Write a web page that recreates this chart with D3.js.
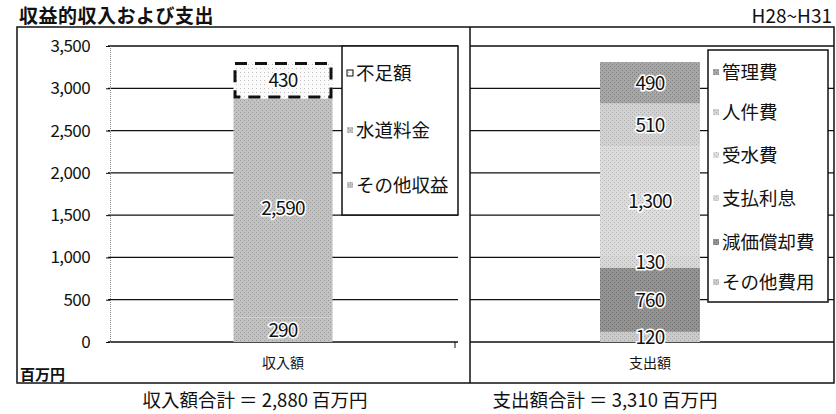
<!DOCTYPE html>
<html>
<head>
<meta charset="utf-8">
<script src="https://cdn.jsdelivr.net/npm/d3@7"></script>
<style>
  html, body { margin: 0; padding: 0; background: #fff; }
  svg { display: block; }
  text { font-family: "Noto Sans CJK JP", "Noto Sans", sans-serif; fill: #111; }
</style>
</head>
<body>
<svg id="chart" width="836" height="414"></svg>
<script>
// 収入 (bottom to top)
const incomeCats = ["その他収益", "水道料金", "不足額"];
const incomeValues = [290, 2590, 430];
// 支出 (bottom to top)
const expenseCats = ["その他費用", "減価償却費", "支払利息", "受水費", "人件費", "管理費"];
const expenseValues = [120, 760, 130, 1300, 510, 490];
const yTicks = [0, 500, 1000, 1500, 2000, 2500, 3000, 3500];
const panelLabels = ["収入額", "支出額"];

const svg = d3.select("#chart");
const fmt = d3.format(",");
const numFont = "'DejaVu Sans', 'Noto Sans', sans-serif";

// dithered grey fills
const fills = {
  "その他収益": ["#c2c2c2", "#7e7e7e"],
  "水道料金":   ["#c2c2c2", "#7e7e7e"],
  "不足額":     ["#fbfbfb", "#9a9a9a"],
  "その他費用": ["#cbcbcb", "#8a8a8a"],
  "減価償却費": ["#939393", "#4e4e4e"],
  "支払利息":   ["#d8d8d8", "#969696"],
  "受水費":     ["#dcdcdc", "#9a9a9a"],
  "人件費":     ["#d2d2d2", "#929292"],
  "管理費":     ["#a6a6a6", "#626262"]
};
const defs = svg.append("defs");
Object.entries(fills).forEach(([k, c], i) => {
  const p = defs.append("pattern").attr("id", "pat" + i)
    .attr("width", 4).attr("height", 4).attr("patternUnits", "userSpaceOnUse");
  p.append("rect").attr("width", 4).attr("height", 4).attr("fill", c[0]);
  const dots = k === "不足額" ? [[0, 0]] : [[0, 0], [2, 2]];
  dots.forEach(d => p.append("rect").attr("x", d[0]).attr("y", d[1])
    .attr("width", 1).attr("height", 1).attr("fill", c[1]).attr("opacity", 0.6));
  fills[k].id = "url(#pat" + i + ")";
});

// scales
const y = d3.scaleLinear().domain([0, 3500]).range([342, 46]);
const xL = d3.scaleBand().domain([panelLabels[0]]).range([108, 458]).paddingOuter(1.268);
const xR = d3.scaleBand().domain([panelLabels[1]]).range([468, 832]).paddingOuter(1.32);

// title
svg.append("text").attr("x", 19).attr("y", 23).attr("font-size", 19).attr("font-weight", 700)
  .attr("letter-spacing", 0.5).text("収益的収入および支出");
svg.append("text").attr("x", 832).attr("y", 23).attr("text-anchor", "end").attr("font-size", 19)
  .text("H28~H31");

// frame
svg.append("rect").attr("x", 17).attr("y", 27).attr("width", 817).attr("height", 356)
  .attr("fill", "none").attr("stroke", "#111").attr("stroke-width", 1.5);
svg.append("line").attr("x1", 470).attr("x2", 470).attr("y1", 27).attr("y2", 383)
  .attr("stroke", "#111").attr("stroke-width", 1.5);

// gridlines
const grid = svg.append("g");
grid.selectAll("line.gl").data(yTicks).join("line")
  .attr("x1", 108).attr("x2", 458).attr("y1", d => y(d)).attr("y2", d => y(d))
  .attr("stroke", "#111").attr("stroke-width", 1.3);
grid.selectAll("line.gr").data(yTicks).join("line")
  .attr("x1", 470).attr("x2", 834).attr("y1", d => y(d)).attr("y2", d => y(d))
  .attr("stroke", "#111").attr("stroke-width", 1.3);

// y axis
const yAxis = svg.append("g").attr("transform", "translate(110,0)")
  .call(d3.axisLeft(y).tickValues(yTicks).tickFormat(fmt).tickSize(4).tickPadding(16));
yAxis.select(".domain").attr("stroke", "#888").attr("stroke-dasharray", "1,1");
yAxis.selectAll(".tick line").attr("stroke", "#111");
yAxis.selectAll(".tick text").attr("font-size", 17).attr("letter-spacing", -0.6)
  .attr("font-family", numFont).attr("fill", "#111");
svg.append("line").attr("x1", 455).attr("x2", 455).attr("y1", y(0)).attr("y2", y(0) + 6)
  .attr("stroke", "#111");

// stacked bars
function stackBar(cats, vals, x, label) {
  let acc = 0;
  const segs = vals.map((v, i) => { const s = { cat: cats[i], v, y0: acc, y1: acc + v }; acc += v; return s; });
  const g = svg.append("g");
  g.selectAll("rect").data(segs).join("rect")
    .attr("x", x(label)).attr("width", x.bandwidth())
    .attr("y", d => y(d.y1)).attr("height", d => y(d.y0) - y(d.y1))
    .attr("fill", d => fills[d.cat].id);
  return { g, segs };
}
const inc = stackBar(incomeCats, incomeValues, xL, panelLabels[0]);
const exp = stackBar(expenseCats, expenseValues, xR, panelLabels[1]);

// shortfall segment drawn with a dashed outline
const short = inc.segs[2];
inc.g.append("rect").attr("x", xL(panelLabels[0]) + 1.5).attr("width", xL.bandwidth() - 3)
  .attr("y", y(short.y1) + 1.5).attr("height", y(short.y0) - y(short.y1) - 3)
  .attr("fill", "none").attr("stroke", "#111").attr("stroke-width", 3)
  .attr("stroke-dasharray", "12,8");

// value labels
function valueLabels(b, x, label) {
  b.g.selectAll("text").data(b.segs).join("text")
    .attr("x", x(label) + x.bandwidth() / 2)
    .attr("y", d => y((d.y0 + d.y1) / 2))
    .attr("dy", "0.36em").attr("text-anchor", "middle")
    .attr("font-family", numFont)
    .attr("font-size", 19).attr("letter-spacing", -0.8)
    .attr("stroke", "#fff").attr("stroke-width", 3).attr("paint-order", "stroke")
    .text(d => fmt(d.v));
}
valueLabels(inc, xL, panelLabels[0]);
valueLabels(exp, xR, panelLabels[1]);

// legends
function legend(x0, y0, w, h, cats, ys) {
  const g = svg.append("g");
  g.append("rect").attr("x", x0).attr("y", y0).attr("width", w).attr("height", h)
    .attr("fill", "#fff").attr("stroke", "#111").attr("stroke-width", 1.5);
  const items = cats.slice().reverse();
  items.forEach((c, i) => {
    g.append("rect").attr("x", x0 + 5).attr("y", ys[i] - 3).attr("width", 6).attr("height", 6)
      .attr("fill", fills[c].id).attr("stroke", c === "不足額" ? "#111" : "none").attr("stroke-width", 1);
    g.append("text").attr("x", x0 + 14).attr("y", ys[i]).attr("dy", "0.36em")
      .attr("font-size", 18.5).text(c);
  });
}
legend(342, 46, 116, 169, incomeCats, [73, 130, 185]);
legend(708, 50, 120, 252, expenseCats, [72, 112, 155, 198, 242, 282]);

// category labels
svg.append("text").attr("x", xL(panelLabels[0]) + xL.bandwidth() / 2).attr("y", 363)
  .attr("dy", "0.36em").attr("text-anchor", "middle").attr("font-size", 14).text(panelLabels[0]);
svg.append("text").attr("x", xR(panelLabels[1]) + xR.bandwidth() / 2).attr("y", 363)
  .attr("dy", "0.36em").attr("text-anchor", "middle").attr("font-size", 14).text(panelLabels[1]);
svg.append("text").attr("x", 20).attr("y", 375).attr("dy", "0.36em")
  .attr("font-size", 15).attr("font-weight", 700).text("百万円");

// totals
const incomeTotal = d3.sum(incomeValues.slice(0, 2));
const expenseTotal = d3.sum(expenseValues);
svg.append("text").attr("x", 255).attr("y", 400).attr("dy", "0.36em").attr("text-anchor", "middle")
  .attr("font-size", 18.5).text(`収入額合計 ＝ ${fmt(incomeTotal)} 百万円`);
svg.append("text").attr("x", 605).attr("y", 400).attr("dy", "0.36em").attr("text-anchor", "middle")
  .attr("font-size", 18.5).text(`支出額合計 ＝ ${fmt(expenseTotal)} 百万円`);
</script>
</body>
</html>
